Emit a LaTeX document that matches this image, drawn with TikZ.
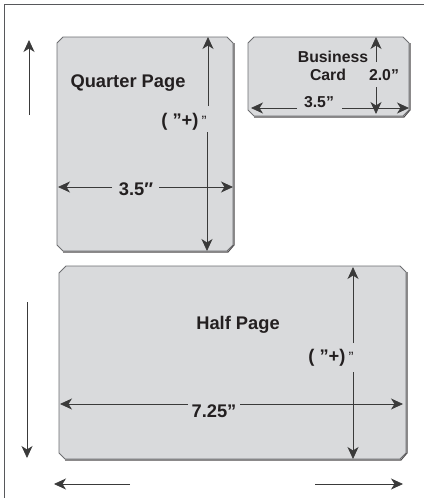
\documentclass[tikz,border=0pt]{standalone}
\usepackage{fontspec}
\setmainfont{Liberation Sans}
\usetikzlibrary{arrows.meta}
\definecolor{paper}{HTML}{D9DADC}
\definecolor{edge}{HTML}{6D6E71}
\definecolor{ink}{HTML}{231F20}
\definecolor{dimline}{HTML}{3A3A3A}
\tikzset{
  sheet/.style={fill=paper, draw=edge, line width=0.9pt, line join=round},
  shadowline/.style={draw=ink!80, line width=1.1pt},
  dimarrow/.style={draw=dimline, line width=0.8pt, -{Stealth[length=12pt,width=11pt,inset=3.5pt]}},
  bigtxt/.style={font=\fontsize{18.3}{21}\selectfont\bfseries, text=ink, inner sep=0pt},
  cardtxt/.style={font=\fontsize{15.8}{18}\selectfont\bfseries, text=ink, inner sep=0pt},
}
\newcommand{\smallq}{\raisebox{0.5pt}{\fontsize{15}{15}\selectfont\mdseries ”}}
\newcommand{\dq}{\symbol{34}}
\begin{document}
\begin{tikzpicture}[x=1pt,y=-1pt]
\useasboundingbox (0,0) rectangle (424,498);
% frame
\draw[edge!80!black, line width=1.2pt] (4.5,498) -- (4.5,4.5) -- (424,4.5);

% sheets: shadow then face
\draw[shadowline] (234,43) -- (234,245) -- (228,252) -- (63,252);
\draw[sheet] (63,37) -- (227,37) -- (233,43) -- (233,245) -- (227,251) -- (63,251) -- (57,245) -- (57,43) -- cycle;

\draw[shadowline] (410,43) -- (410,110) -- (404,117) -- (254,117);
\draw[sheet] (254,37) -- (403,37) -- (409,43) -- (409,110) -- (403,116) -- (254,116) -- (248,110) -- (248,43) -- cycle;

\draw[shadowline] (407,272) -- (407,453) -- (401,460) -- (65,460);
\draw[sheet] (66,266) -- (400,266) -- (406,272) -- (406,453) -- (400,459) -- (65,459) -- (59,453) -- (59,273) -- cycle;

% texts
\node[bigtxt] (qp) at (128,83) {Quarter Page};
\node[bigtxt] (qv) at (184,122) {( \dq+)\,\smallq};
\node[bigtxt] (qh) at (136,189) {3.5″};
\node[cardtxt] (bc1) at (333,57) {Business};
\node[cardtxt] (bc2) at (328,75) {Card};
\node[cardtxt] (bv) at (384,75) {2.0”};
\node[cardtxt] (bh) at (319,102) {3.5”};
\node[bigtxt] (hp) at (238,325) {Half Page};
\node[bigtxt] (hv) at (331,358) {( \dq+)\,\smallq};
\node[bigtxt] (hh) at (214,411) {7.25”};

% coordinates
\coordinate (qvt) at (208,37);  \coordinate (qva) at (208,106);
\coordinate (qvb) at (207,132); \coordinate (qvd) at (207,251);
\coordinate (qhl) at (58,187);  \coordinate (qha) at (112,187);
\coordinate (qhb) at (159,187); \coordinate (qhr) at (233,187);
\coordinate (bvt) at (376,37);  \coordinate (bva) at (376,62);
\coordinate (bvb) at (376,87);  \coordinate (bvd) at (376,114);
\coordinate (bhl) at (251,108); \coordinate (bha) at (297,108);
\coordinate (bhb) at (342,108); \coordinate (bhr) at (409,108);
\coordinate (hvt) at (353,267); \coordinate (hva) at (353,343);
\coordinate (hvb) at (353,372); \coordinate (hvd) at (353,459);
\coordinate (hhl) at (60,404);  \coordinate (hha) at (188,404);
\coordinate (hhb) at (240,404); \coordinate (hhr) at (403,404);
\coordinate (ua) at (29,115); \coordinate (ub) at (29,40);
\coordinate (da) at (27,302); \coordinate (db) at (27,458);
\coordinate (la) at (130,484); \coordinate (lb) at (54,484);
\coordinate (ra) at (315,484); \coordinate (rb) at (403,484);

% dimension arrows
\draw[dimarrow] (qva) -- (qvt);
\draw[dimarrow] (qvb) -- (qvd);
\draw[dimarrow] (qha) -- (qhl);
\draw[dimarrow] (qhb) -- (qhr);
\draw[dimarrow] (bva) -- (bvt);
\draw[dimarrow] (bvb) -- (bvd);
\draw[dimarrow] (bha) -- (bhl);
\draw[dimarrow] (bhb) -- (bhr);
\draw[dimarrow] (hva) -- (hvt);
\draw[dimarrow] (hvb) -- (hvd);
\draw[dimarrow] (hha) -- (hhl);
\draw[dimarrow] (hhb) -- (hhr);
% outer arrows
\draw[dimarrow] (ua) -- (ub);
\draw[dimarrow] (da) -- (db);
\draw[dimarrow] (la) -- (lb);
\draw[dimarrow] (ra) -- (rb);
\end{tikzpicture}
\end{document}
